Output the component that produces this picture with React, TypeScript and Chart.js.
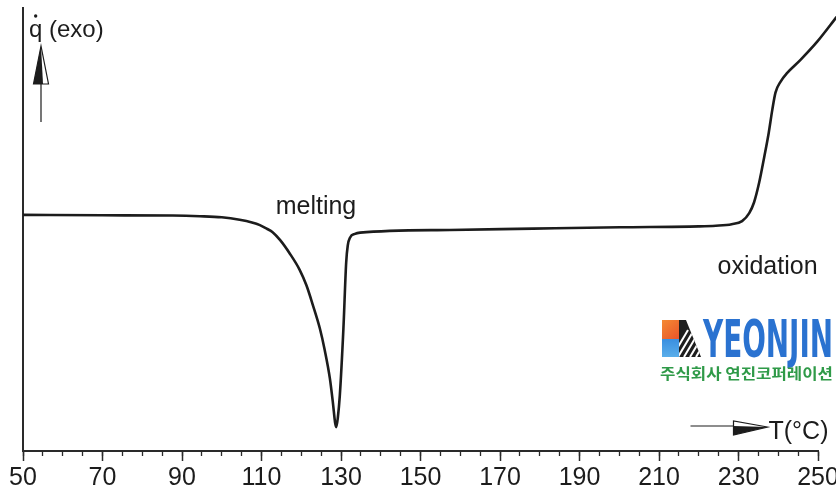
import { useEffect, useRef } from 'react';
import { Chart, registerables } from 'chart.js';

Chart.register(...registerables);

// DSC trace of a polyolefin sample: temperature (°C) vs. heat flow (arbitrary units, exo up)
const temperatureC = [
  50, 70, 87.7, 94.5, 100, 104.5, 107.6, 109.6, 111.3, 112.8, 114.7, 117.1, 119.6, 121.3,
  122.9, 124.7, 125.9, 127.2, 128.0, 128.5, 128.8, 129.2, 129.7, 130.6, 131.3, 131.7,
  132.3, 133.5, 134.8, 157.4, 178.3, 200.2, 220.0, 224.3, 228.3, 230.9, 232.7, 233.9,
  235.2, 236.5, 237.6, 238.5, 239.3, 240.6, 242.2, 245.6, 249.8, 254.7,
];
const heatFlow = [
  53.3, 53.2, 53.15, 53.0, 52.75, 52.2, 51.6, 51.0, 50.2, 49.4, 47.6, 44.6, 40.9, 37.4,
  33.0, 27.6, 22.8, 16.4, 10.6, 6.5, 5.4, 7.5, 12.5, 27.5, 42.5, 46.4,
  48.2, 49.0, 49.3, 49.9, 50.2, 50.5, 50.7, 50.85, 51.2, 51.9, 53.7, 56.1,
  60.6, 66.5, 71.8, 77.0, 80.9, 83.4, 85.3, 88.3, 92.4, 98.0,
];

// Labelled temperature ticks; unlabelled minor ticks every 5 °C
const majorTicks = [50, 70, 90, 110, 130, 150, 170, 190, 210, 230, 250];
const minorStep = 5;

const T_MIN = 50;
const T_MAX = 250;
const Q_MIN = 0;
const Q_MAX = 100;

// Event labels placed in data coordinates
const eventLabels = [
  { text: 'melting', t: 123.7, q: 53.4 },
  { text: 'oxidation', t: 237.3, q: 39.9 },
];

const INK = '#1c1c1c';
const AXIS = '#2a2a2a';
const SANS = '"Liberation Sans", Arial, Helvetica, sans-serif';

const overlayPlugin = {
  id: 'dscOverlay',
  afterDraw(chart: any) {
    const { ctx, chartArea: ca, scales } = chart;
    const xs = scales.x;
    const ys = scales.y;
    ctx.save();
    ctx.fillStyle = INK;
    ctx.strokeStyle = INK;

    // y-axis caption  q̇ (exo)
    ctx.font = `24px ${SANS}`;
    ctx.textAlign = 'left';
    ctx.textBaseline = 'alphabetic';
    const capX = ca.left + 6;
    const capY = ca.top + 29;
    ctx.fillText('q (exo)', capX, capY);
    const qw = ctx.measureText('q').width;
    ctx.beginPath();
    ctx.arc(capX + qw / 2, capY - 21, 1.7, 0, Math.PI * 2);
    ctx.fill();

    // upward arrow under the caption
    const ax = ca.left + 18;
    ctx.lineWidth = 1.2;
    ctx.beginPath();
    ctx.moveTo(ax, ca.top + 114);
    ctx.lineTo(ax, ca.top + 76);
    ctx.stroke();
    ctx.beginPath();
    ctx.moveTo(ax, ca.top + 38);
    ctx.lineTo(ax - 7.5, ca.top + 76);
    ctx.lineTo(ax + 2, ca.top + 76);
    ctx.closePath();
    ctx.fill();
    ctx.beginPath();
    ctx.moveTo(ax, ca.top + 38);
    ctx.lineTo(ax - 7.5, ca.top + 76);
    ctx.lineTo(ax + 7.5, ca.top + 76);
    ctx.closePath();
    ctx.stroke();

    // temperature direction arrow and caption
    const ay = ca.bottom - 25;
    ctx.beginPath();
    ctx.moveTo(ca.right - 127.5, ay);
    ctx.lineTo(ca.right - 84.5, ay);
    ctx.stroke();
    ctx.beginPath();
    ctx.moveTo(ca.right - 50.5, ay + 1);
    ctx.lineTo(ca.right - 84.5, ay);
    ctx.lineTo(ca.right - 84.5, ay + 9);
    ctx.closePath();
    ctx.fill();
    ctx.beginPath();
    ctx.moveTo(ca.right - 50.5, ay + 1);
    ctx.lineTo(ca.right - 84.5, ay - 5);
    ctx.lineTo(ca.right - 84.5, ay + 9);
    ctx.closePath();
    ctx.stroke();
    ctx.font = `25px ${SANS}`;
    ctx.fillText('T(°C)', ca.right - 49.5, ca.bottom - 12);

    // event labels
    ctx.textAlign = 'center';
    for (const lab of eventLabels) {
      ctx.fillText(lab.text, xs.getPixelForValue(lab.t), ys.getPixelForValue(lab.q));
    }

    // company mark
    const lx = 662;
    const ly = 320;
    const og = ctx.createLinearGradient(lx, ly, lx + 17, ly + 19);
    og.addColorStop(0, '#f58a32');
    og.addColorStop(1, '#e8542b');
    ctx.fillStyle = og;
    ctx.fillRect(lx, ly, 17, 19);
    const bg = ctx.createLinearGradient(lx, ly + 19, lx, ly + 37);
    bg.addColorStop(0, '#3a8fe0');
    bg.addColorStop(1, '#5aaeea');
    ctx.fillStyle = bg;
    ctx.fillRect(lx, ly + 19, 17, 18);
    ctx.save();
    ctx.beginPath();
    ctx.moveTo(lx + 17, ly);
    ctx.lineTo(lx + 24, ly);
    ctx.lineTo(lx + 39, ly + 37);
    ctx.lineTo(lx + 17, ly + 37);
    ctx.closePath();
    ctx.clip();
    ctx.fillStyle = '#1e1e1e';
    ctx.fillRect(lx + 17, ly, 24, 37);
    ctx.strokeStyle = '#ffffff';
    ctx.lineWidth = 2;
    for (let k = 0; k < 6; k++) {
      ctx.beginPath();
      ctx.moveTo(lx + 10 + k * 6, ly + 37);
      ctx.lineTo(lx + 26 + k * 6, ly + 10);
      ctx.stroke();
    }
    ctx.restore();

    ctx.font = `bold 52px "DejaVu Sans", ${SANS}`;
    ctx.textAlign = 'left';
    ctx.textBaseline = 'alphabetic';
    const brand = 'YEONJIN';
    const bw = ctx.measureText(brand).width;
    const yg = ctx.createLinearGradient(0, ly - 2, 0, ly + 37);
    yg.addColorStop(0, '#2a72d0');
    yg.addColorStop(1, '#1746a6');
    ctx.save();
    ctx.translate(703, ly + 37);
    ctx.scale(130 / bw, 1);
    ctx.fillStyle = yg;
    ctx.fillText(brand, 0, 0);
    ctx.restore();

    ctx.font = `bold 15px "Noto Sans CJK KR", sans-serif`;
    const kor = '주식회사 연진코퍼레이션';
    const kw = ctx.measureText(kor).width;
    ctx.save();
    ctx.translate(660, 379);
    ctx.scale(173 / kw, 1);
    ctx.fillStyle = '#2f9a48';
    ctx.fillText(kor, 0, 0);
    ctx.restore();

    ctx.restore();
  },
};

export default function App() {
  const canvasRef = useRef<HTMLCanvasElement | null>(null);

  useEffect(() => {
    const canvas = canvasRef.current;
    if (!canvas) return;
    const tickFont = { family: SANS, size: 25, lineHeight: 1.0 };
    const chart = new Chart(canvas, {
      type: 'line',
      data: {
        datasets: [
          {
            data: temperatureC.map((t, i) => ({ x: t, y: heatFlow[i] })),
            borderColor: INK,
            borderWidth: 2.6,
            pointRadius: 0,
            cubicInterpolationMode: 'monotone',
            fill: false,
            clip: false as any,
          },
        ],
      },
      options: {
        animation: false,
        responsive: false,
        events: [],
        layout: { padding: { left: 23, top: 8, right: 52, bottom: 0 } },
        plugins: { legend: { display: false }, tooltip: { enabled: false } },
        scales: {
          x: {
            type: 'linear',
            position: 'bottom',
            min: T_MIN,
            max: T_MAX,
            ticks: {
              stepSize: minorStep,
              autoSkip: false,
              maxRotation: 0,
              padding: 5,
              color: INK,
              font: tickFont,
              callback: (v: any) => (majorTicks.includes(Number(v)) ? String(v) : ''),
            },
            grid: {
              drawOnChartArea: false,
              tickLength: 10,
              tickWidth: 1.5,
              tickColor: (c: any) =>
                c.tick && majorTicks.includes(Number(c.tick.value)) ? AXIS : 'rgba(0,0,0,0)',
            },
            border: { color: AXIS, width: 2 },
          },
          xMinor: {
            type: 'linear',
            axis: 'x',
            position: { y: Q_MIN } as any,
            min: T_MIN,
            max: T_MAX,
            ticks: { display: false, stepSize: minorStep, autoSkip: false },
            grid: { drawOnChartArea: false, tickLength: 5, tickWidth: 1.3, tickColor: AXIS },
            border: { display: false },
          },
          y: {
            type: 'linear',
            position: 'left',
            min: Q_MIN,
            max: Q_MAX,
            ticks: { display: false },
            grid: { drawOnChartArea: false, drawTicks: false },
            border: { color: AXIS, width: 2 },
          },
        },
      } as any,
      plugins: [overlayPlugin],
    });
    return () => chart.destroy();
  }, []);

  return (
    <div
      style={{
        position: 'absolute',
        left: 0,
        top: 0,
        width: 836,
        height: 496,
        overflow: 'hidden',
        background: '#ffffff',
      }}
    >
      <canvas ref={canvasRef} width={870} height={496} style={{ width: 870, height: 496, display: 'block' }} />
    </div>
  );
}
